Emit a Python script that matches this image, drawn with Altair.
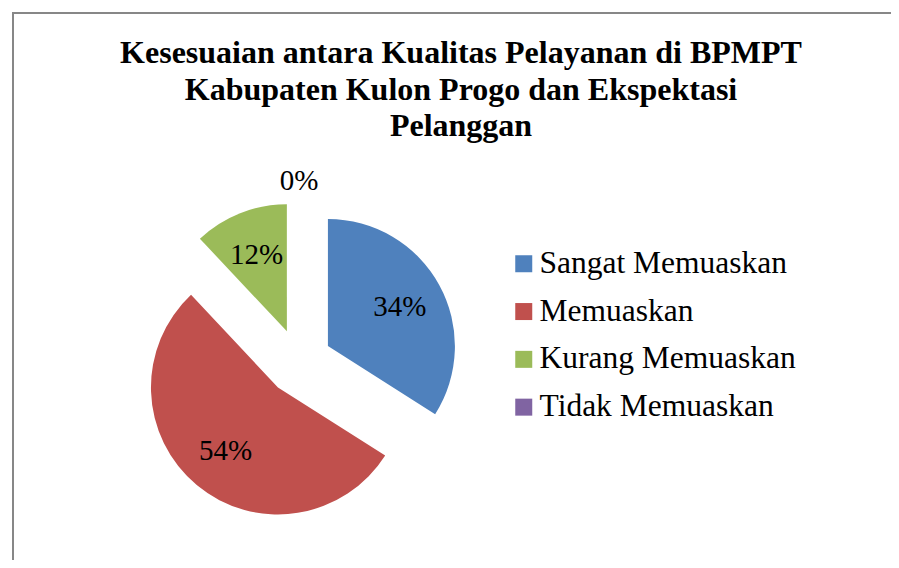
import math
import altair as alt
import pandas as pd

# ---- data ----
categories = ["Sangat Memuaskan", "Memuaskan", "Kurang Memuaskan", "Tidak Memuaskan"]
percent = [34, 54, 12, 0]
label_text = ["34%", "54%", "12%", "0%"]
colors = ["#4F81BD", "#C0504D", "#9BBB59", "#8064A2"]
title_lines = [
    "Kesesuaian antara Kualitas Pelayanan di BPMPT",
    "Kabupaten Kulon Progo dan Ekspektasi",
    "Pelanggan",
]

# ---- layout constants ----
TOTAL = sum(percent)
W, H_TOTAL = 883, 552
TOP = 150
H = H_TOTAL - TOP
CX, CY = 291, 204          # pie centre (view coords)
R = 127                    # pie radius
EXPLODE = 33               # slice explosion distance
LABEL_R = 115
LABEL_R_OUT = 181
SERIF = "Liberation Serif"

df = pd.DataFrame({"cat": categories, "pct": percent, "label": label_text,
                   "idx": list(range(len(categories)))})

base = (
    alt.Chart(df)
    .transform_window(cum="sum(pct)", sort=[alt.SortField("idx")], frame=[None, 0])
    .transform_calculate(t0="datum.cum - datum.pct")
    .transform_calculate(mid=f"2*PI*(datum.cum - datum.pct/2)/{TOTAL}")
    .transform_calculate(cx=f"{CX} + {EXPLODE}*sin(datum.mid)")
    .transform_calculate(cy=f"{CY} - {EXPLODE}*cos(datum.mid)")
    .transform_calculate(lr=f"datum.pct > 0 ? {LABEL_R} : {LABEL_R_OUT}")
    .transform_calculate(lx=f"{CX} + datum.lr*sin(datum.mid)")
    .transform_calculate(ly=f"{CY} - datum.lr*cos(datum.mid)")
)

arcs = base.mark_arc(radius=R).encode(
    x=alt.X("cx:Q", scale=None, stack=False),
    y=alt.Y("cy:Q", scale=None, stack=False),
    theta=alt.Theta("t0:Q", scale=alt.Scale(domain=[0, TOTAL], range=[0, 2 * math.pi])),
    theta2=alt.Theta2("cum:Q"),
    color=alt.Color(
        "cat:N",
        scale=alt.Scale(domain=categories, range=colors),
        legend=alt.Legend(
            title=None, orient="none", legendX=500, legendY=90,
            symbolType="square", symbolSize=289, symbolStrokeWidth=0,
            labelFont=SERIF, labelFontSize=31.5, labelColor="black",
            labelOffset=0, rowPadding=14.8, labelLimit=600, padding=0,
        ),
    ),
)

labels = base.mark_text(
    font=SERIF, fontSize=29, color="black", align="center", baseline="middle"
).encode(
    x=alt.X("lx:Q", scale=None, stack=False),
    y=alt.Y("ly:Q", scale=None, stack=False),
    text="label:N",
)

one = alt.Data(values=[{"k": 1}])
frame_top = alt.Chart(one).mark_rule(color="#878787", strokeWidth=2).encode(
    x=alt.value(4), x2=alt.value(W), y=alt.value(-145)
)
frame_left = alt.Chart(one).mark_rule(color="#878787", strokeWidth=2).encode(
    x=alt.value(5), y=alt.value(-146), y2=alt.value(H)
)

chart = (
    alt.layer(frame_top, frame_left, arcs, labels)
    .properties(
        width=W, height=H,
        padding={"left": 0, "top": TOP, "right": 0, "bottom": 0},
        autosize=alt.AutoSizeParams(type="none"),
        title=alt.Title(
            title_lines, font=SERIF, fontSize=32, fontWeight="bold", color="black",
            anchor="middle", frame="group", orient="top", baseline="alphabetic",
            lineHeight=36.5, offset=-157, dx=11.5,
        ),
        background="white",
    )
    .configure_view(stroke=None)
)

chart.save("out.html", embed_options={"renderer": "svg", "actions": False})
